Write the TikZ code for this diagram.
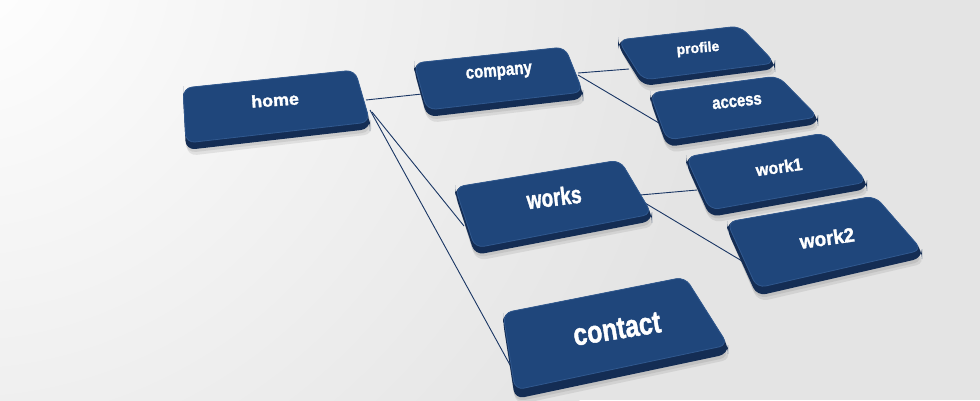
\documentclass[tikz,border=0pt]{standalone}
\usepackage{fontspec}
\setmainfont{Liberation Sans}
\newfontfamily\btnfont{Liberation Sans}[BoldFeatures={FakeBold=1.6}]
\usetikzlibrary{calc}
\definecolor{bgc}{RGB}{228,228,228}
\definecolor{topc}{RGB}{31,70,123}
\definecolor{sidec}{RGB}{20,45,84}
\definecolor{rimc}{RGB}{48,88,142}
\definecolor{linec}{RGB}{26,54,100}
\tikzset{
  connector/.style={draw=linec, line width=0.9},
  btnshadow/.style={fill=black, opacity=0.08, rounded corners=10},
  btnside/.style={fill=sidec, rounded corners=9},
  btntop/.style={fill=topc, draw=rimc, line width=0.8, rounded corners=9},
  btntext/.style={text=white, inner sep=0pt},
}
% name, TL, TR, BR, BL, thickness
\newcommand\sitebtn[6]{%
  \coordinate (#1-tl) at (#2);
  \coordinate (#1-tr) at (#3);
  \coordinate (#1-br) at (#4);
  \coordinate (#1-bl) at (#5);
  \fill[btnshadow] ([shift={(1,#6+2)}]#1-tl) -- ([shift={(3,#6+2)}]#1-tr) -- ([shift={(4,#6+5)}]#1-br) -- ([shift={(1,#6+6)}]#1-bl) -- cycle;
  \fill[btnshadow] ([shift={(0,#6)}]#1-tl) -- ([shift={(2,#6)}]#1-tr) -- ([shift={(2,#6+3)}]#1-br) -- ([shift={(0,#6+3)}]#1-bl) -- cycle;
  \fill[btnside] (#1-tl) -- (#1-tr) -- (#1-br) -- ([shift={(0,#6)}]#1-br) -- ([shift={(0,#6)}]#1-bl) -- ([shift={(0,#6)}]#1-tl) -- cycle;
  \path[btntop] (#1-tl) -- (#1-tr) -- (#1-br) -- (#1-bl) -- cycle;
}
% name, position, font size, xscale, rotation, text
\newcommand\btnlabel[6]{%
  \node[btntext, font=\fontsize{#3}{#3}\selectfont\btnfont\bfseries, rotate=#5, xscale=#4] (#1) at (#2) {#6};
}
\begin{document}
\begin{tikzpicture}[x=1pt,y=-1pt]
\useasboundingbox (0,0) rectangle (980,400);
\begin{scope}
  \clip (0,0) rectangle (980,400);
  \fill[bgc] (0,0) rectangle (980,400);
  \shade[inner color=white, outer color=bgc] (-40,-40) circle (760);
\end{scope}

% connector end points
\coordinate (home-c1) at (366,100);
\coordinate (home-c2) at (372,112);
\coordinate (home-c3) at (370,110);
\coordinate (company-w) at (422,94);
\coordinate (works-w) at (464,226);
\coordinate (contact-w) at (515,374);
\coordinate (company-e1) at (578,73);
\coordinate (company-e2) at (578,75);
\coordinate (profile-w) at (629,69);
\coordinate (access-w) at (664,126);
\coordinate (works-e1) at (640,195);
\coordinate (works-e2) at (645,203);
\coordinate (work1-w) at (697,190);
\coordinate (work2-w) at (747,264);

\draw[connector] (home-c1) -- (company-w);
\draw[connector] (home-c2) -- (works-w);
\draw[connector] (home-c3) -- (contact-w);
\draw[connector] (company-e1) -- (profile-w);
\draw[connector] (company-e2) -- (access-w);
\draw[connector] (works-e1) -- (work1-w);
\draw[connector] (works-e2) -- (work2-w);

% buttons
\sitebtn{profile}{618,40}{740,26}{775,63}{643,80}{6}
\sitebtn{access}{650,93}{778,76}{818,117}{667,140}{7}
\sitebtn{work1}{686,157}{825,133}{867,182}{710,210}{7}
\sitebtn{work2}{727,222}{875,196}{922,250}{757,288}{8}
\sitebtn{company}{414,63}{565,47}{583,92}{427,110}{7}
\sitebtn{home}{183,88}{355,70}{370,122}{186,143}{7}
\sitebtn{works}{455,187}{620,160}{652,214}{475,248}{7}
\sitebtn{contact}{503,313}{685,277}{728,345}{515,390}{9}

% labels
\btnlabel{homelbl}{275,100}{17}{1.05}{4}{home}
\btnlabel{companylbl}{499,73}{18}{0.84}{5}{company}
\btnlabel{profilelbl}{698,49}{14}{1.0}{5}{profile}
\btnlabel{accesslbl}{737,102}{17.5}{0.85}{6}{access}
\btnlabel{workslbl}{554,197}{25}{0.76}{7}{works}
\btnlabel{work1lbl}{779,167}{17}{0.95}{8}{work1}
\btnlabel{work2lbl}{827,238}{20}{0.95}{8}{work2}
\btnlabel{contactlbl}{617,329}{31}{0.8}{9}{contact}
\end{tikzpicture}
\end{document}
